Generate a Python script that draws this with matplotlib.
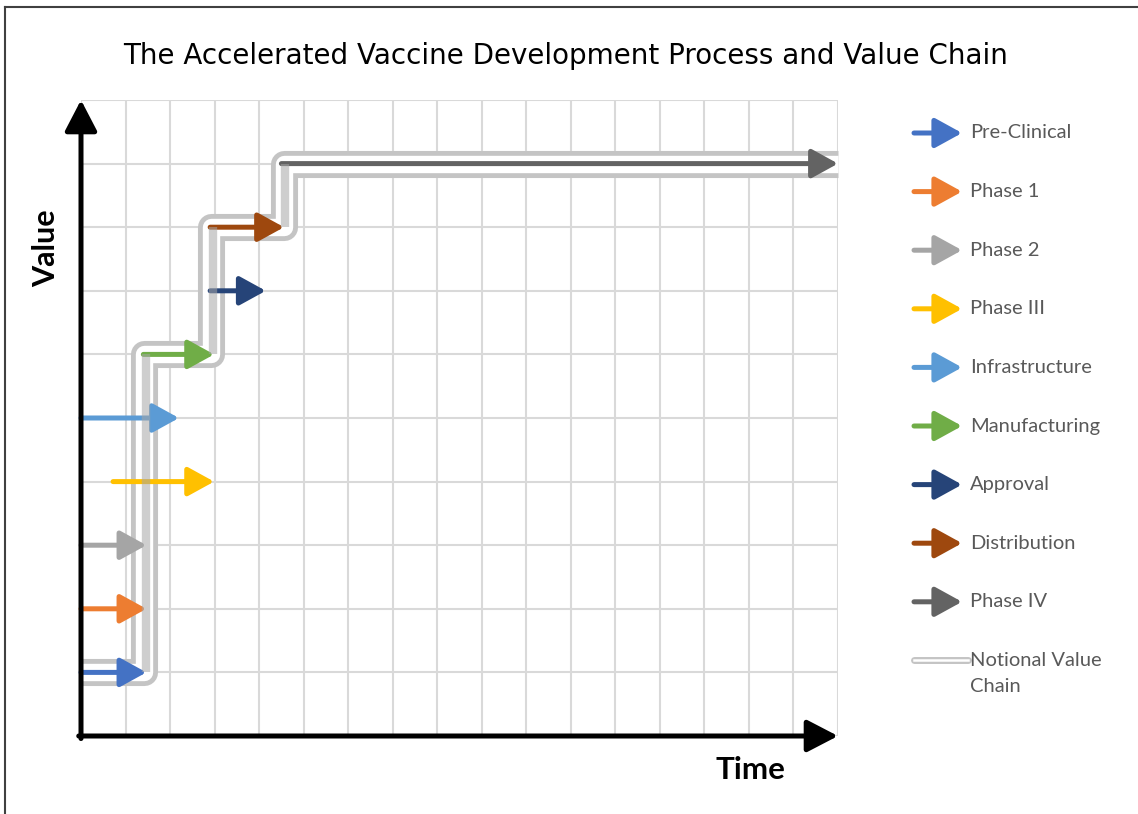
import matplotlib
matplotlib.use('Agg')
import matplotlib.pyplot as plt
from matplotlib import transforms
from matplotlib.patches import FancyArrowPatch

# Этапы разработки вакцины (стрелки на графике)
stages = ['Pre-Clinical', 'Phase 1', 'Phase 2', 'Phase III', 'Infrastructure',
          'Manufacturing', 'Approval', 'Distribution', 'Phase IV']
colors = ['#4472C4', '#ED7D31', '#A5A5A5', '#FFC000', '#5B9BD5',
          '#70AD47', '#264478', '#9E480E', '#636363']
start = [0, 0, 0, 0.72, 0, 1.4, 2.9, 2.9, 4.5]
end = [1.47, 1.47, 1.47, 2.99, 2.2, 2.99, 4.15, 4.56, 17]
level = [1, 2, 3, 4, 5, 6, 7, 8, 9]

# Условная цепочка ценности (ступенчатая линия)
chain_x = [0, 1.42, 1.42, 2.92, 2.92, 4.55, 4.55, 17]
chain_y = [1, 1, 6, 6, 8, 8, 9, 9]

W, H = 1138, 814


def fx(x):
    return x / W


def fy(y):
    return 1 - y / H


fig = plt.figure(figsize=(W / 100, H / 100), dpi=100)
ax = fig.add_axes([fx(81), fy(736), (838 - 81) / W, (736 - 100) / H])
ax.set_xlim(0, 17)
ax.set_ylim(0, 10)
ax.set_xticks(range(18))
ax.set_yticks(range(11))
ax.tick_params(length=0, labelbottom=False, labelleft=False)
ax.grid(color='#D9D9D9', lw=1.5)
for s in ax.spines.values():
    s.set_visible(False)

# цепочка ценности: серая двойная линия
ax.plot(chain_x, chain_y, color='#C4C4C4', lw=19.5, solid_joinstyle='round',
        solid_capstyle='butt', zorder=2, clip_on=False)
ax.plot(chain_x, chain_y, color='white', lw=12.5, solid_joinstyle='round',
        solid_capstyle='butt', zorder=3, clip_on=False)

# стрелки этапов
for c, x0, x1, y in zip(colors, start, end, level):
    ax.annotate('', xy=(x1, y), xytext=(x0, y),
                arrowprops=dict(arrowstyle='-|>,head_length=1.0,head_width=0.55',
                                color=c, lw=3.6, mutation_scale=16,
                                shrinkA=0, shrinkB=0, capstyle='round'),
                annotation_clip=False, zorder=4)

# толстая полупрозрачная часть на вертикальных участках
shift = transforms.offset_copy(ax.transData, fig=fig, x=1.2, y=0, units='points')
for i in range(len(chain_x) - 1):
    if chain_x[i] == chain_x[i + 1]:
        ax.plot(chain_x[i:i + 2], chain_y[i:i + 2], color='#A6A6A6', alpha=0.55,
                lw=6, transform=shift, zorder=5, clip_on=False,
                solid_capstyle='butt')

# оси со стрелками
ax.annotate('', xy=(0, 1.0), xytext=(0, -0.004), xycoords='axes fraction',
            arrowprops=dict(arrowstyle='-|>,head_length=1.0,head_width=0.52',
                            color='black', lw=3.6, mutation_scale=19,
                            shrinkA=0, shrinkB=0),
            annotation_clip=False, zorder=6)
ax.annotate('', xy=(1.0, 0), xytext=(-0.003, 0), xycoords='axes fraction',
            arrowprops=dict(arrowstyle='-|>,head_length=1.0,head_width=0.52',
                            color='black', lw=3.6, mutation_scale=19,
                            shrinkA=0, shrinkB=0),
            annotation_clip=False, zorder=6)

fig.text(fx(566), fy(56), 'The Accelerated Vaccine Development Process and Value Chain',
         ha='center', va='center', fontsize=20, family='DejaVu Sans', color='black')
fig.text(fx(46), fy(248), 'Value', rotation=90, ha='center', va='center',
         fontsize=22, fontweight='bold', family='Lato')
fig.text(fx(750), fy(770), 'Time', ha='center', va='center',
         fontsize=22.5, fontweight='bold', family='Lato')

# легенда
for i, (name, c) in enumerate(zip(stages, colors)):
    yy = 133 + i * 58.6
    fig.add_artist(FancyArrowPatch(
        (fx(914), fy(yy)), (fx(962), fy(yy)), transform=fig.transFigure,
        arrowstyle='-|>,head_length=1.0,head_width=0.55', color=c, lw=3.6,
        mutation_scale=16.5, shrinkA=0, shrinkB=0, capstyle='round'))
    fig.text(fx(970), fy(yy), name, ha='left', va='center', fontsize=14.5,
             family='Lato', color='#595959')

yy = 660
fig.add_artist(plt.Line2D([fx(914), fx(968)], [fy(yy), fy(yy)], color='#C4C4C4',
                          lw=5, solid_capstyle='round', transform=fig.transFigure))
fig.add_artist(plt.Line2D([fx(914), fx(968)], [fy(yy), fy(yy)], color='white',
                          lw=1.8, transform=fig.transFigure))
fig.text(fx(970), fy(yy), 'Notional Value', ha='left', va='center', fontsize=14.5,
         family='Lato', color='#595959')
fig.text(fx(970), fy(687), 'Chain', ha='left', va='center', fontsize=14.5,
         family='Lato', color='#595959')

# рамка
fig.add_artist(plt.Line2D([fx(5), fx(5)], [fy(7), 0], color='#404040', lw=1.5,
                          transform=fig.transFigure))
fig.add_artist(plt.Line2D([fx(5), 1], [fy(7), fy(7)], color='#404040', lw=1.5,
                          transform=fig.transFigure))

fig.savefig('out.png', dpi=100)
